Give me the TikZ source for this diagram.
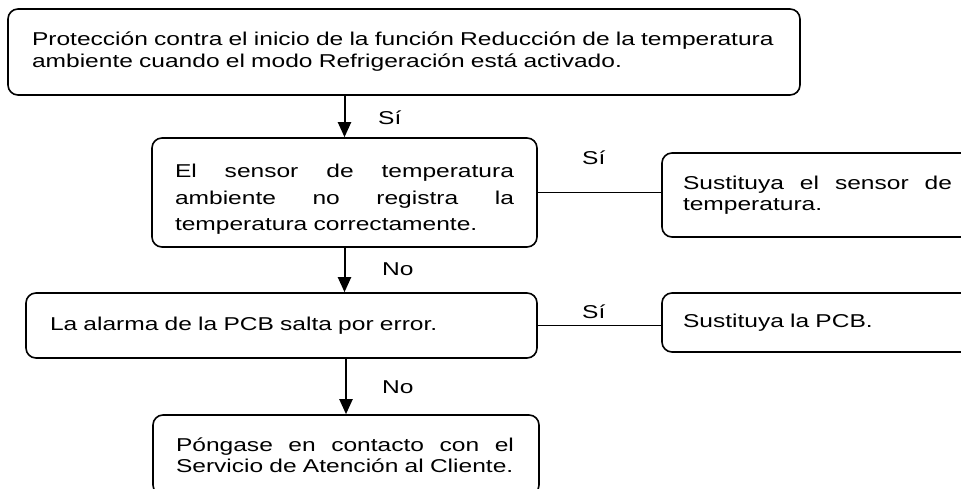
\documentclass[tikz,border=0pt]{standalone}
\usepackage{fontspec}
\setmainfont[FakeStretch=1.32]{Liberation Sans}
\usetikzlibrary{arrows.meta}
\newcommand{\jline}[2]{\leavevmode\hbox to #1{#2}}
\begin{document}
\begin{tikzpicture}[x=1pt,y=-1pt,
  box/.style={draw, line width=1.6pt, rounded corners=10pt, align=left,
    inner ysep=0pt, font=\fontsize{18.6}{22}\selectfont},
  lbl/.style={anchor=base west, inner sep=0pt, font=\fontsize{18.6}{22}\selectfont},
  arr/.style={line width=2pt, -{Triangle[length=15pt,width=13pt]}},
  con/.style={line width=1.2pt}]
\useasboundingbox (0,0) rectangle (961,489);
\clip (0,0) rectangle (961,489);
\node[box, inner xsep=24pt, text width=744pt, minimum height=86pt] (b1) at (404,52)
  {Protección contra el inicio de la función Reducción de la temperatura\\ambiente cuando el modo Refrigeración está activado.};
\node[box, inner xsep=23pt, text width=339pt, minimum height=109pt,
  font=\fontsize{18.6}{26.5}\selectfont] (b2) at (344.5,192.5)
  {\rule{0pt}{27.5pt}\jline{339pt}{El\hfill sensor\hfill de\hfill temperatura}\\\jline{339pt}{ambiente\hfill no\hfill registra\hfill la}\\temperatura correctamente.};
\node[box, inner xsep=21pt, text width=269pt, minimum height=84pt,
  font=\fontsize{18.6}{21}\selectfont] (b3) at (817.5,195)
  {\jline{269pt}{Sustituya\hfill el\hfill sensor\hfill de}\\temperatura.};
\node[box, inner xsep=24pt, text width=463pt, minimum height=65pt] (b4) at (281.5,325.5)
  {La alarma de la PCB salta por error.};
\node[box, inner xsep=21pt, text width=269pt, minimum height=59pt] (b5) at (817.5,322.5)
  {Sustituya la PCB.};
\node[box, inner xsep=23pt, text width=340pt, minimum height=80pt,
  font=\fontsize{18.6}{21}\selectfont] (b6) at (346,455)
  {\jline{338pt}{Póngase\hfill en\hfill contacto\hfill con\hfill el}\\Servicio de Atención al Cliente.};
\draw[arr] (b1.south -| b2.north) -- (b2.north);
\draw[arr] (b2.south) -- (b4.north -| b2.south);
\draw[arr] (b4.south -| b6.north) -- (b6.north);
\draw[con] (b2.east) -- (b3.west |- b2.east);
\draw[con] (b4.east) -- (b5.west |- b4.east);
\node[lbl] (l1) at (378,125) {Sí};
\node[lbl] (l2) at (582,165) {Sí};
\node[lbl] (l3) at (382,275) {No};
\node[lbl] (l4) at (582,318) {Sí};
\node[lbl] (l5) at (382,393) {No};
\end{tikzpicture}
\end{document}
